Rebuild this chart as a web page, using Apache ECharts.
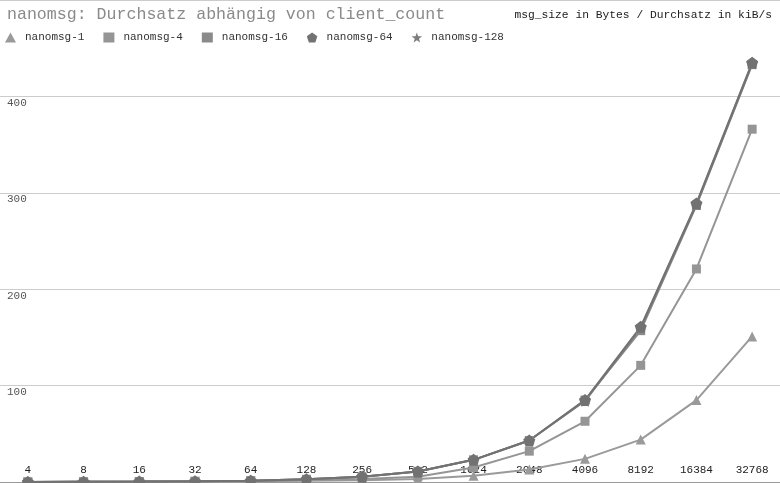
<!DOCTYPE html>
<html>
<head>
<meta charset="utf-8">
<script src="https://cdn.jsdelivr.net/npm/echarts/dist/echarts.min.js"></script>
<style>
  html, body { margin: 0; padding: 0; background: #fff; }
  #chart { width: 780px; height: 483px; }
</style>
</head>
<body>
<div id="chart"></div>
<script>
// msg_size in Bytes
var categories = ['4', '8', '16', '32', '64', '128', '256', '512', '1024', '2048', '4096', '8192', '16384', '32768'];

// Durchsatz in kiB/s
var nanomsg1   = [0.1, 0.2, 0.3, 0.5, 0.8, 1.2, 1.8, 3, 6.5, 13, 24, 44, 85, 151];
var nanomsg4   = [0.1, 0.2, 0.4, 0.7, 1.1, 2.0, 3.2, 5.5, 15, 32, 63, 121, 221, 366];
var nanomsg16  = [0.1, 0.2, 0.4, 0.7, 1.4, 2.8, 5.5, 11, 23, 43, 85, 157, 287, 433];
var nanomsg64  = [0.1, 0.2, 0.4, 0.7, 1.4, 2.8, 5.5, 11, 23, 43, 85, 161, 289, 435];
var nanomsg128 = [0.1, 0.2, 0.4, 0.7, 1.4, 2.8, 5.5, 11, 23, 43, 84, 160, 288, 434];

var FONT = 'Liberation Mono';
var PENTAGON = 'path://M0,-10 L9.51,-3.09 L5.88,8.09 L-5.88,8.09 L-9.51,-3.09 Z';
var STAR = 'path://M0,-10 L2.35,-3.24 L9.51,-3.09 L3.8,1.24 L5.88,8.09 L0,4 L-5.88,8.09 L-3.8,1.24 L-9.51,-3.09 L-2.35,-3.24 Z';

function line(name, data, color, symbol, size) {
    return {
        name: name,
        type: 'line',
        data: data,
        symbol: symbol,
        symbolSize: size,
        showAllSymbol: true,
        lineStyle: { color: color, width: 2 },
        itemStyle: { color: color },
        emphasis: { disabled: true }
    };
}

var chart = echarts.init(document.getElementById('chart'));
chart.setOption({
    animation: false,
    title: [{
        text: 'nanomsg: Durchsatz abhängig von client_count',
        left: 2,
        top: 1,
        textStyle: { fontFamily: FONT, fontSize: 16.6, fontWeight: 'normal', color: '#8a8a8a' }
    }, {
        text: 'msg_size in Bytes / Durchsatz in kiB/s',
        right: 3,
        top: 5,
        textStyle: { fontFamily: FONT, fontSize: 11.3, fontWeight: 'normal', color: '#222' }
    }],
    legend: {
        left: 0,
        top: 27,
        itemWidth: 11,
        itemHeight: 10,
        itemGap: 19,
        textStyle: { fontFamily: FONT, fontSize: 11, color: '#333', padding: [0, 0, 0, 4] },
        data: [
            { name: 'nanomsg-1', icon: 'triangle' },
            { name: 'nanomsg-4', icon: 'rect' },
            { name: 'nanomsg-16', icon: 'rect' },
            { name: 'nanomsg-64', icon: PENTAGON },
            { name: 'nanomsg-128', icon: STAR }
        ]
    },
    grid: { left: 0, right: 0, top: 0, bottom: 1, containLabel: false },
    xAxis: {
        type: 'category',
        data: categories,
        boundaryGap: true,
        axisLine: { show: true, lineStyle: { color: '#999' } },
        axisTick: { show: false },
        axisLabel: {
            inside: true,
            margin: 6,
            fontFamily: FONT,
            fontSize: 11,
            color: '#222'
        },
        splitLine: { show: false }
    },
    yAxis: {
        type: 'value',
        min: 0,
        max: 500,
        interval: 100,
        axisLine: { show: false },
        axisTick: { show: false },
        axisLabel: {
            inside: true,
            margin: 7,
            verticalAlign: 'top',
            padding: [1, 0, 0, 0],
            showMinLabel: false,
            showMaxLabel: false,
            fontFamily: FONT,
            fontSize: 11,
            color: '#555'
        },
        splitLine: { show: true, lineStyle: { color: '#cccccc', width: 1 } }
    },
    series: [
        line('nanomsg-1', nanomsg1, '#9a9a9a', 'triangle', 10),
        line('nanomsg-4', nanomsg4, '#959595', 'rect', 9),
        line('nanomsg-16', nanomsg16, '#8a8a8a', 'rect', 9),
        line('nanomsg-128', nanomsg128, '#7c7c7c', STAR, 12),
        line('nanomsg-64', nanomsg64, '#727272', PENTAGON, 12)
    ]
});
</script>
</body>
</html>
